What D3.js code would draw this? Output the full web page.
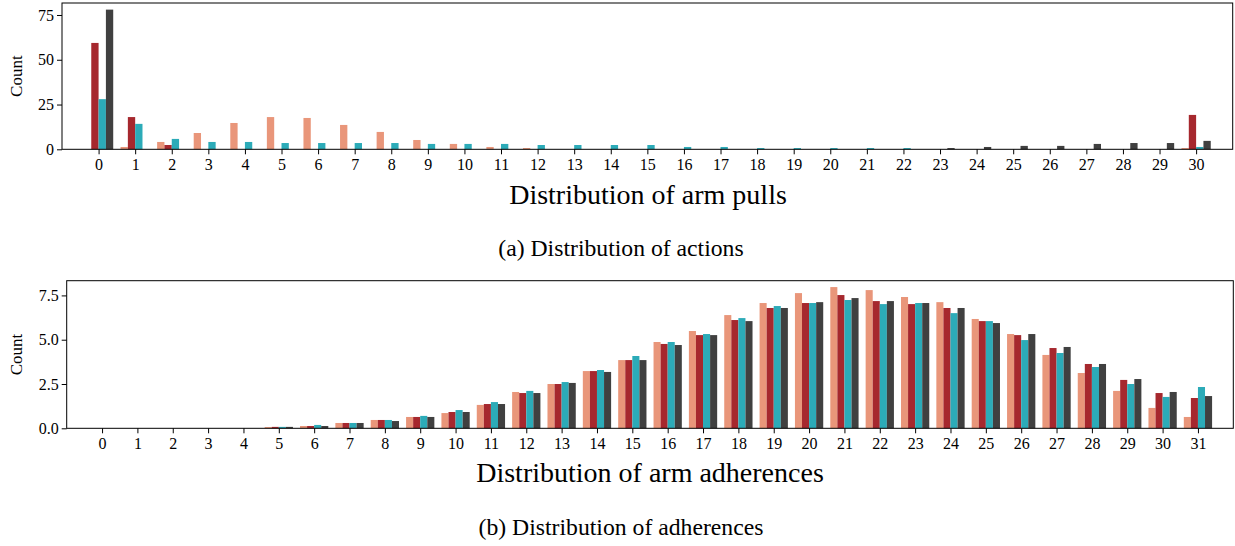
<!DOCTYPE html>
<html>
<head>
<meta charset="utf-8">
<script src="https://cdn.jsdelivr.net/npm/d3@7"></script>
<style>
  html, body { margin: 0; padding: 0; background: #fff; }
  svg { display: block; }
  svg text { font-family: "Liberation Serif", "Times New Roman", serif; fill: #000; }
</style>
</head>
<body>
<svg id="chart" width="1235" height="546"></svg>
<script>
// Series colours (same order in both panels)
const seriesColors = ["#E9967A", "#A6282E", "#2CABB8", "#404040"];

// Panel (a): distribution of arm pulls, arms 0..30
const pullCategories = d3.range(0, 31);
const pullS1 = [0, 1.3, 4.1, 9.1, 14.7, 18.0, 17.5, 13.6, 9.7, 5.2, 3.0, 1.3, 0.7, 0, 0, 0, 0, 0, 0, 0, 0, 0, 0, 0, 0, 0, 0, 0, 0, 0, 0.7];
const pullS2 = [59.4, 18.0, 2.4, 0, 0, 0, 0, 0, 0, 0, 0, 0, 0, 0, 0, 0, 0, 0, 0, 0, 0, 0, 0, 0, 0, 0, 0, 0, 0, 0, 19.2];
const pullS3 = [28.0, 14.2, 5.8, 4.1, 4.1, 3.5, 3.5, 3.5, 3.5, 3.0, 3.0, 3.0, 2.4, 2.4, 2.4, 2.4, 1.3, 1.3, 0.7, 0.7, 0.7, 0.7, 0.7, 0, 0, 0, 0, 0, 0, 0, 1.3];
const pullS4 = [78.0, 0, 0, 0, 0, 0, 0, 0, 0, 0, 0, 0, 0, 0, 0, 0, 0, 0, 0, 0, 0, 0, 0, 0.7, 1.3, 1.9, 1.9, 3.0, 3.5, 3.5, 4.7];
const pullYTicks = [0, 25, 50, 75];

// Panel (b): distribution of arm adherences, 0..31
const adhCategories = d3.range(0, 32);
const adhS1 = [0, 0, 0, 0, 0, 0.07, 0.13, 0.30, 0.47, 0.64, 0.86, 1.32, 2.05, 2.50, 3.23, 3.85, 4.87, 5.49, 6.39, 7.07, 7.63, 7.97, 7.80, 7.41, 7.12, 6.17, 5.32, 4.14, 3.12, 2.11, 1.15, 0.64];
const adhS2 = [0, 0, 0, 0, 0, 0.08, 0.13, 0.30, 0.47, 0.64, 0.92, 1.37, 1.99, 2.50, 3.23, 3.85, 4.76, 5.26, 6.11, 6.79, 7.07, 7.52, 7.18, 7.01, 6.79, 6.05, 5.26, 4.53, 3.63, 2.73, 1.99, 1.71];
const adhS3 = [0, 0, 0, 0, 0, 0.08, 0.19, 0.30, 0.47, 0.70, 1.03, 1.48, 2.11, 2.61, 3.29, 4.08, 4.87, 5.32, 6.22, 6.90, 7.07, 7.24, 7.01, 7.07, 6.50, 6.05, 4.98, 4.25, 3.46, 2.50, 1.77, 2.33];
const adhS4 = [0, 0, 0, 0, 0, 0.08, 0.13, 0.30, 0.41, 0.64, 0.92, 1.37, 1.99, 2.56, 3.18, 3.85, 4.70, 5.26, 6.05, 6.79, 7.12, 7.35, 7.18, 7.07, 6.79, 5.94, 5.32, 4.59, 3.63, 2.78, 2.05, 1.82];
const adhYTicks = [0, 2.5, 5.0, 7.5];

const svg = d3.select("#chart");
const serif = '"Liberation Serif", "Times New Roman", serif';

// Group offsets (in category units) and bar width for the four series
const barOffsets = [-0.3, -0.1, 0.1, 0.3];
const barWidth = 0.2;

function drawPanel(cfg) {
  const x = d3.scaleLinear().domain(cfg.xDomain).range([cfg.left, cfg.right]);
  const y = d3.scaleLinear().domain(cfg.yDomain).range([cfg.bottom, cfg.top]);
  const g = svg.append("g");

  // bars
  cfg.series.forEach((vals, si) => {
    g.append("g")
      .selectAll("rect")
      .data(cfg.categories.map((c, i) => ({ c, v: vals[i] })))
      .join("rect")
      .attr("x", d => x(d.c + barOffsets[si] - barWidth / 2))
      .attr("width", d => x(d.c + barOffsets[si] + barWidth / 2) - x(d.c + barOffsets[si] - barWidth / 2))
      .attr("y", d => y(d.v))
      .attr("height", d => y(0) - y(d.v))
      .attr("fill", seriesColors[si]);
  });

  // frame
  g.append("rect")
    .attr("x", cfg.left).attr("y", cfg.top)
    .attr("width", cfg.right - cfg.left).attr("height", cfg.bottom - cfg.top)
    .attr("fill", "none").attr("stroke", "#000").attr("stroke-width", 1);

  // x axis
  const xAxis = g.append("g")
    .attr("transform", `translate(0,${cfg.bottom})`)
    .call(d3.axisBottom(x).tickValues(cfg.categories).tickFormat(d3.format("d")).tickSize(5).tickPadding(4));
  xAxis.select(".domain").remove();
  xAxis.selectAll("text").style("font-size", "16px").style("font-family", serif);
  xAxis.selectAll("line").attr("stroke", "#000");

  // y axis
  const yAxis = g.append("g")
    .attr("transform", `translate(${cfg.left},0)`)
    .call(d3.axisLeft(y).tickValues(cfg.yTicks).tickFormat(cfg.yFormat).tickSize(5).tickPadding(3));
  yAxis.select(".domain").remove();
  yAxis.selectAll("text").style("font-size", "16px").style("font-family", serif);
  yAxis.selectAll("line").attr("stroke", "#000");

  // y label
  g.append("text")
    .attr("transform", `translate(${cfg.yLabelX},${(cfg.top + cfg.bottom) / 2}) rotate(-90)`)
    .attr("text-anchor", "middle")
    .attr("dominant-baseline", "middle")
    .style("font-size", "17px")
    .text("Count");

  // x label
  g.append("text")
    .attr("x", cfg.xLabelX).attr("y", cfg.xLabelY)
    .attr("text-anchor", "middle")
    .style("font-size", "28px")
    .text(cfg.xLabel);

  // caption
  g.append("text")
    .attr("x", cfg.captionX).attr("y", cfg.captionY)
    .attr("text-anchor", "middle")
    .style("font-size", "23.7px")
    .text(cfg.caption);
}

drawPanel({
  categories: pullCategories,
  series: [pullS1, pullS2, pullS3, pullS4],
  xDomain: [-1, 31],
  yDomain: [0, 81.7],
  yTicks: pullYTicks,
  yFormat: d3.format("d"),
  left: 62, right: 1232.7, top: 3, bottom: 149.3,
  yLabelX: 18,
  xLabel: "Distribution of arm pulls",
  xLabelX: 648, xLabelY: 204,
  caption: "(a) Distribution of actions",
  captionX: 621, captionY: 256
});

drawPanel({
  categories: adhCategories,
  series: [adhS1, adhS2, adhS3, adhS4],
  xDomain: [-1, 32],
  yDomain: [0, 8.33],
  yTicks: adhYTicks,
  yFormat: d3.format(".1f"),
  left: 66.7, right: 1233.3, top: 280.7, bottom: 428.3,
  yLabelX: 18,
  xLabel: "Distribution of arm adherences",
  xLabelX: 650, xLabelY: 482,
  caption: "(b) Distribution of adherences",
  captionX: 621, captionY: 535
});
</script>
</body>
</html>
